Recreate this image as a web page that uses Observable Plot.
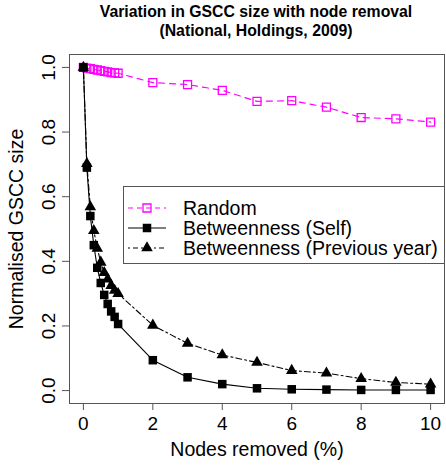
<!DOCTYPE html>
<html><head><meta charset="utf-8">
<script src="https://cdn.jsdelivr.net/npm/d3@7"></script>
<script src="https://cdn.jsdelivr.net/npm/@observablehq/plot@0.6"></script>
<style>
body{margin:0;background:#fff;}
#wrap{position:relative;width:446px;height:466px;font-family:"Liberation Sans",Arial,sans-serif;color:#000;}
#title{position:absolute;left:56px;width:400px;top:2px;text-align:center;font-weight:bold;font-size:15.8px;line-height:19px;}
#legend{position:absolute;left:123px;top:186px;width:322px;height:78px;box-sizing:border-box;border:1px solid #555;background:#fff;}
#chart svg{display:block;}
</style></head><body>
<div id="wrap">
<div id="chart"></div>
<div id="title">Variation in GSCC size with node removal<br>(National, Holdings, 2009)</div>
<div id="legend"></div>
</div>
<script>
// Data
const nodesRemoved = [0, 0.1, 0.2, 0.3, 0.4, 0.5, 0.6, 0.7, 0.8, 0.9, 1, 2, 3, 4, 5, 6, 7, 8, 9, 10];
const randomVals   = [1.000, 0.998, 0.996, 0.994, 0.992, 0.990, 0.988, 0.986, 0.984, 0.983, 0.982, 0.953, 0.947, 0.929, 0.895, 0.897, 0.877, 0.845, 0.841, 0.831];
const selfVals     = [1.000, 0.690, 0.540, 0.450, 0.380, 0.333, 0.296, 0.268, 0.245, 0.228, 0.206, 0.094, 0.041, 0.020, 0.007, 0.004, 0.003, 0.002, 0.002, 0.002];
const prevVals     = [1.000, 0.702, 0.568, 0.495, 0.440, 0.397, 0.365, 0.345, 0.325, 0.310, 0.300, 0.202, 0.146, 0.110, 0.087, 0.062, 0.054, 0.037, 0.025, 0.020];
const seriesNames  = ["Random", "Betweenness (Self)", "Betweenness (Previous year)"];
const xTicks = [0, 2, 4, 6, 8, 10];
const yTicks = [0, 0.2, 0.4, 0.6, 0.8, 1.0];
const xLabel = "Nodes removed (%)";
const yLabel = "Normalised GSCC size";

const rows = nodesRemoved.map((x, i) => ({x, random: randomVals[i], self: selfVals[i], prev: prevVals[i]}));
const MAG = "#ff00ff";
const FS = 19;
const LFS = 19.5;

const chart = Plot.plot({
  width: 446, height: 466,
  marginLeft: 69, marginRight: 2, marginTop: 54, marginBottom: 63,
  x: {domain: [-0.4, 10.4]},
  y: {domain: [-0.04, 1.04]},
  style: {fontFamily: "'Liberation Sans', Arial, sans-serif", color: "#000", background: "#fff"},
  marks: [
    Plot.frame({stroke: "#555"}),
    Plot.axisX({ticks: xTicks, tickSize: 7, tickPadding: 6, fontSize: FS, label: null, stroke: "#555"}),
    Plot.axisY({ticks: yTicks, tickSize: 7, tickPadding: 8, tickRotate: -90, fontSize: FS, label: null, tickFormat: d3.format(".1f"), stroke: "#555"}),
    Plot.text([xLabel], {text: d => d, frameAnchor: "bottom", dy: 52, fontSize: LFS}),
    Plot.text([yLabel], {text: d => d, frameAnchor: "left", textAnchor: "middle", dx: -53, rotate: -90, fontSize: LFS}),
    Plot.line(rows, {x: "x", y: "random", stroke: MAG, strokeWidth: 1.2, strokeDasharray: "6,5"}),
    Plot.dot(rows, {x: "x", y: "random", symbol: "square", r: 4.5, stroke: MAG, fill: "none", strokeWidth: 1.3}),
    Plot.line(rows, {x: "x", y: "self", stroke: "#000", strokeWidth: 1.1}),
    Plot.dot(rows, {x: "x", y: "self", symbol: "square", r: 4.8, fill: "#000", stroke: "none"}),
    Plot.line(rows, {x: "x", y: "prev", stroke: "#000", strokeWidth: 1.1, strokeDasharray: "2,3,6,3"}),
    Plot.dot(rows, {x: "x", y: "prev", symbol: "triangle", r: 4.3, fill: "#000", stroke: "none"})
  ]
});
document.getElementById("chart").appendChild(chart);

// Legend
const styles = [
  {stroke: MAG, dash: "5,4", symbol: d3.symbolSquare, fill: "none"},
  {stroke: "#000", dash: null, symbol: d3.symbolSquare, fill: "#000"},
  {stroke: "#000", dash: "2,3,5,3", symbol: d3.symbolTriangle, fill: "#000"}
];
const sizes = [Math.PI * 4.5 * 4.5, Math.PI * 4.8 * 4.8, Math.PI * 4.3 * 4.3];
const lg = d3.select("#legend").append("svg").attr("width", 320).attr("height", 76)
  .style("font-family", "'Liberation Sans', Arial, sans-serif").style("font-size", LFS + "px");
seriesNames.forEach((name, i) => {
  const y = 22 + i * 20 - 1;
  const s = styles[i];
  lg.append("line").attr("x1", 4).attr("x2", 42).attr("y1", y).attr("y2", y)
    .attr("stroke", s.stroke).attr("stroke-width", 1.2).attr("stroke-dasharray", s.dash);
  lg.append("path").attr("transform", `translate(23,${y})`)
    .attr("d", d3.symbol(s.symbol, sizes[i])())
    .attr("fill", s.fill).attr("stroke", s.fill === "none" ? s.stroke : "none").attr("stroke-width", 1.3);
  lg.append("text").attr("x", 59).attr("y", y).attr("dy", "0.35em").text(name);
});
</script>
</body></html>
